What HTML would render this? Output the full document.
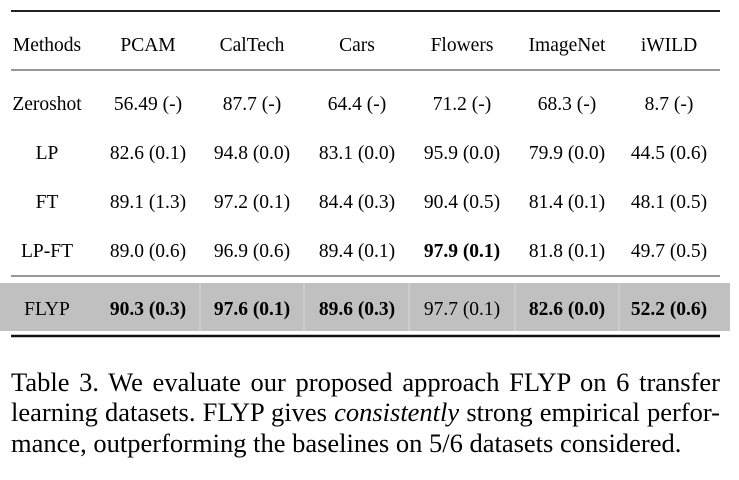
<!DOCTYPE html>
<html><head><style>
body{margin:0;width:739px;height:480px;background:#fff;overflow:hidden;font-family:"Liberation Serif",serif}
.cap{position:absolute;left:11px;width:709px;font-size:26.5px;line-height:30px;color:#000;text-align:justify;text-align-last:justify;white-space:nowrap}
</style></head><body>
<svg width="739" height="480" style="position:absolute;left:0;top:0" font-family="Liberation Serif, serif" font-size="19.5" fill="#000">
<line x1="11" x2="720" y1="11" y2="11" stroke="#222" stroke-width="2"/>
<line x1="11" x2="720" y1="70" y2="70" stroke="#777" stroke-width="1.5"/>
<line x1="11" x2="720" y1="276" y2="276" stroke="#777" stroke-width="1.5"/>
<rect x="0" y="283" width="730" height="48" fill="#c0c0c0"/>
<g stroke="#d8d8d8" stroke-width="1"><line x1="200" x2="200" y1="283" y2="331"/><line x1="304" x2="304" y1="283" y2="331"/><line x1="409" x2="409" y1="283" y2="331"/><line x1="515" x2="515" y1="283" y2="331"/><line x1="619" x2="619" y1="283" y2="331"/></g>
<line x1="11" x2="720" y1="336" y2="336" stroke="#111" stroke-width="2.5"/>
<g text-anchor="middle">
<text x="47" y="51">Methods</text><text x="148" y="51">PCAM</text><text x="252" y="51">CalTech</text><text x="357" y="51">Cars</text><text x="462" y="51">Flowers</text><text x="567" y="51">ImageNet</text><text x="669" y="51">iWILD</text>
<text x="47" y="110">Zeroshot</text><text x="148" y="110">56.49 (-)</text><text x="252" y="110">87.7 (-)</text><text x="357" y="110">64.4 (-)</text><text x="462" y="110">71.2 (-)</text><text x="567" y="110">68.3 (-)</text><text x="669" y="110">8.7 (-)</text>
<text x="47" y="159">LP</text><text x="148" y="159">82.6 (0.1)</text><text x="252" y="159">94.8 (0.0)</text><text x="357" y="159">83.1 (0.0)</text><text x="462" y="159">95.9 (0.0)</text><text x="567" y="159">79.9 (0.0)</text><text x="669" y="159">44.5 (0.6)</text>
<text x="47" y="208">FT</text><text x="148" y="208">89.1 (1.3)</text><text x="252" y="208">97.2 (0.1)</text><text x="357" y="208">84.4 (0.3)</text><text x="462" y="208">90.4 (0.5)</text><text x="567" y="208">81.4 (0.1)</text><text x="669" y="208">48.1 (0.5)</text>
<text x="47" y="257">LP-FT</text><text x="148" y="257">89.0 (0.6)</text><text x="252" y="257">96.9 (0.6)</text><text x="357" y="257">89.4 (0.1)</text><text x="462" y="257" font-weight="bold">97.9 (0.1)</text><text x="567" y="257">81.8 (0.1)</text><text x="669" y="257">49.7 (0.5)</text>
<text x="47" y="315">FLYP</text><text x="148" y="315" font-weight="bold">90.3 (0.3)</text><text x="252" y="315" font-weight="bold">97.6 (0.1)</text><text x="357" y="315" font-weight="bold">89.6 (0.3)</text><text x="462" y="315">97.7 (0.1)</text><text x="567" y="315" font-weight="bold">82.6 (0.0)</text><text x="669" y="315" font-weight="bold">52.2 (0.6)</text>
</g></svg>
<div class="cap" style="top:367px">Table 3. We evaluate our proposed approach FLYP on 6 transfer</div>
<div class="cap" style="top:397px">learning datasets. FLYP gives <i>consistently</i> strong empirical perfor-</div>
<div class="cap" style="top:428px;text-align-last:left">mance, outperforming the baselines on 5/6 datasets considered.</div>
</body></html>
